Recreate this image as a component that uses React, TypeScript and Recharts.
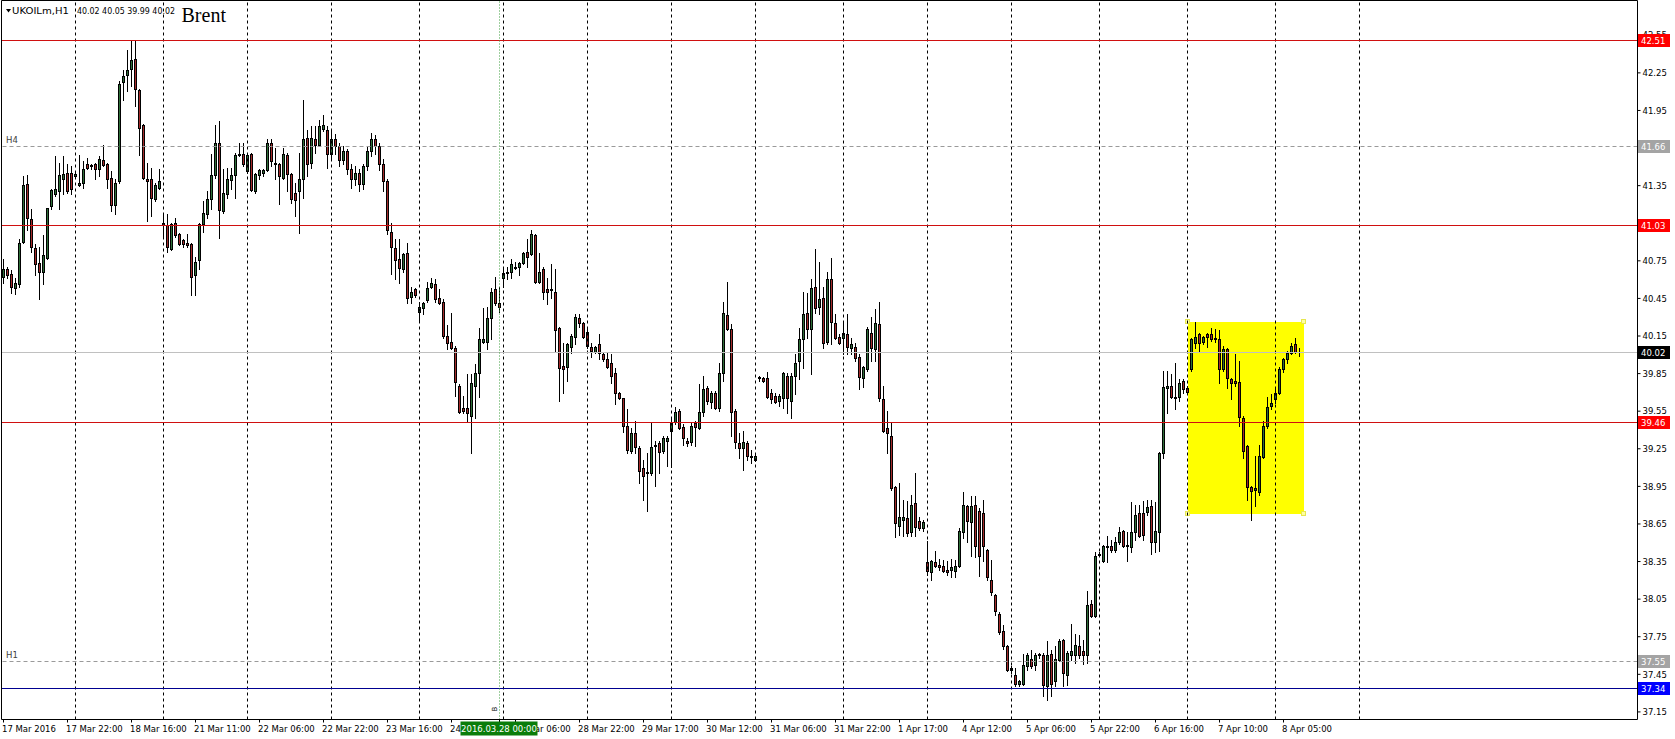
import React from 'react'
import { ComposedChart, Bar, XAxis, YAxis, ReferenceLine, ReferenceArea } from 'recharts'

// UKOILm H1 candles, oldest first
const opens = [
  40.62, 40.68, 40.64, 40.53, 40.56, 40.90, 41.36, 41.08, 40.85, 40.73, 40.66, 40.77, 41.18, 41.28, 41.30, 41.40,
  41.45, 41.45, 41.42, 41.35, 41.37, 41.52, 41.50, 41.52, 41.48, 41.55, 41.52, 41.41, 41.19, 41.38, 42.17, 42.23,
  42.28, 42.36, 42.11, 41.83, 41.40, 41.40, 41.24, 41.33, 41.05, 41.03, 40.84, 41.05, 40.96, 40.91, 40.89, 40.88,
  40.63, 40.75, 41.04, 41.12, 41.24, 41.43, 41.69, 41.14, 41.28, 41.39, 41.43, 41.59, 41.60, 41.46, 41.60, 41.30,
  41.43, 41.45, 41.47, 41.69, 41.52, 41.52, 41.41, 41.59, 41.44, 41.29, 41.30, 41.40, 41.73, 41.53, 41.72, 41.67,
  41.80, 41.79, 41.60, 41.72, 41.66, 41.55, 41.62, 41.48, 41.40, 41.45, 41.36, 41.50, 41.62, 41.72, 41.66, 41.52,
  41.38, 40.98, 40.85, 40.76, 40.68, 40.81, 40.46, 40.52, 40.34, 40.37, 40.43, 40.54, 40.56, 40.45, 40.42, 40.15,
  40.10, 40.05, 39.75, 39.57, 39.57, 39.51, 39.75, 39.85, 40.10, 40.10, 40.29, 40.52, 40.41, 40.61, 40.65, 40.66,
  40.69, 40.70, 40.73, 40.82, 40.80, 40.95, 40.58, 40.68, 40.52, 40.51, 40.50, 40.21, 39.91, 39.90, 40.06, 40.14,
  40.29, 40.25, 40.18, 40.06, 40.02, 40.08, 40.00, 39.96, 39.93, 39.85, 39.69, 39.65, 39.43, 39.23, 39.37, 39.25,
  39.09, 39.05, 39.05, 39.27, 39.29, 39.23, 39.31, 39.39, 39.46, 39.55, 39.42, 39.31, 39.30, 39.45, 39.41, 39.54,
  39.73, 39.62, 39.69, 39.57, 39.85, 40.31, 40.20, 39.55, 39.29, 39.25, 39.29, 39.19, 39.16, 39.81, 39.81, 39.81,
  39.69, 39.67, 39.63, 39.65, 39.83, 39.63, 39.83, 39.95, 40.12, 40.33, 40.20, 40.54, 40.38, 40.45, 40.10, 40.60,
  40.25, 40.14, 40.13, 40.16, 40.05, 40.06, 39.98, 39.81, 39.88, 40.17, 40.04, 40.24, 39.64, 39.41, 39.35, 38.94,
  38.63, 38.68, 38.69, 38.58, 38.81, 38.67, 38.61, 38.34, 38.26, 38.34, 38.32, 38.31, 38.28, 38.28, 38.27, 38.31,
  38.58, 38.79, 38.66, 38.80, 38.75, 38.73, 38.44, 38.20, 38.08, 37.93, 37.79, 37.67, 37.50, 37.44, 37.37, 37.37,
  37.51, 37.57, 37.52, 37.60, 37.60, 37.35, 37.61, 37.39, 37.56, 37.72, 37.44, 37.60, 37.60, 37.67, 37.63, 37.60,
  38.01, 37.91, 38.40, 38.35, 38.46, 38.47, 38.44, 38.50, 38.59, 38.48, 38.46, 38.58, 38.73, 38.73, 38.74, 38.79,
  38.50, 38.58, 39.21, 39.73, 39.75, 39.65, 39.66, 39.79, 39.73, 39.88, 40.09, 40.16, 40.10, 40.16, 40.16, 40.13,
  40.12, 39.88, 40.04, 39.80, 39.79, 39.78, 39.49, 39.27, 38.94, 38.92, 38.90, 39.18, 39.43, 39.59, 39.64, 39.69,
  39.88, 39.96, 40.01, 40.08, 40.02,
]
const highs = [
  40.76, 40.70, 40.67, 40.61, 40.92, 41.42, 41.43, 41.16, 40.88, 40.86, 40.95, 41.17, 41.32, 41.58, 41.53, 41.58,
  41.52, 41.50, 41.45, 41.59, 41.54, 41.57, 41.52, 41.53, 41.58, 41.67, 41.53, 41.46, 41.40, 42.18, 42.27, 42.43,
  42.51, 42.51, 42.12, 41.84, 41.53, 41.49, 41.37, 41.48, 41.12, 41.12, 41.05, 41.09, 40.97, 40.92, 40.96, 40.89,
  40.78, 41.05, 41.22, 41.30, 41.60, 41.83, 41.86, 41.48, 41.49, 41.49, 41.61, 41.69, 41.69, 41.61, 41.61, 41.45,
  41.48, 41.48, 41.72, 41.72, 41.65, 41.53, 41.65, 41.61, 41.45, 41.37, 41.61, 42.03, 41.79, 41.82, 41.82, 41.87,
  41.91, 41.82, 41.78, 41.76, 41.69, 41.66, 41.64, 41.52, 41.50, 41.48, 41.52, 41.66, 41.77, 41.75, 41.69, 41.56,
  41.40, 41.05, 40.92, 40.92, 40.81, 40.89, 40.54, 40.53, 40.42, 40.42, 40.58, 40.61, 40.60, 40.52, 40.44, 40.23,
  40.33, 40.07, 39.76, 39.67, 39.84, 39.84, 39.92, 40.21, 40.37, 40.38, 40.53, 40.62, 40.54, 40.68, 40.70, 40.76,
  40.74, 40.74, 40.82, 40.92, 40.99, 40.96, 40.81, 40.70, 40.61, 40.72, 40.68, 40.22, 40.09, 40.09, 40.16, 40.32,
  40.32, 40.26, 40.22, 40.09, 40.07, 40.16, 40.02, 40.02, 40.00, 39.89, 39.70, 39.65, 39.56, 39.41, 39.47, 39.27,
  39.16, 39.21, 39.46, 39.31, 39.31, 39.35, 39.35, 39.48, 39.58, 39.56, 39.44, 39.33, 39.45, 39.47, 39.76, 39.83,
  39.75, 39.71, 39.71, 39.93, 40.42, 40.58, 40.24, 39.56, 39.37, 39.39, 39.31, 39.24, 39.20, 39.83, 39.82, 39.86,
  39.72, 39.69, 39.68, 39.86, 39.85, 39.85, 40.00, 40.21, 40.50, 40.49, 40.60, 40.84, 40.74, 40.54, 40.66, 40.77,
  40.32, 40.16, 40.25, 40.32, 40.13, 40.09, 40.00, 39.91, 40.22, 40.30, 40.36, 40.42, 39.75, 39.55, 39.46, 38.95,
  38.97, 38.84, 38.83, 38.88, 39.05, 38.70, 38.68, 38.51, 38.36, 38.43, 38.37, 38.36, 38.35, 38.37, 38.36, 38.61,
  38.90, 38.80, 38.87, 38.87, 38.77, 38.84, 38.45, 38.36, 38.09, 37.94, 37.84, 37.68, 37.51, 37.50, 37.40, 37.61,
  37.62, 37.64, 37.62, 37.62, 37.62, 37.71, 37.64, 37.67, 37.73, 37.73, 37.63, 37.85, 37.77, 37.76, 37.72, 38.11,
  38.04, 38.42, 38.42, 38.48, 38.55, 38.52, 38.54, 38.62, 38.60, 38.58, 38.82, 38.80, 38.80, 38.83, 38.84, 38.84,
  38.82, 39.22, 39.87, 39.87, 39.84, 39.93, 39.80, 39.80, 39.75, 40.13, 40.26, 40.17, 40.15, 40.17, 40.21, 40.20,
  40.19, 40.07, 40.05, 39.81, 40.00, 39.95, 39.51, 39.28, 38.95, 39.19, 39.28, 39.47, 39.66, 39.68, 39.72, 39.90,
  39.97, 40.03, 40.09, 40.13, 40.05,
]
const lows = [
  40.57, 40.61, 40.49, 40.48, 40.54, 40.89, 40.99, 40.82, 40.63, 40.44, 40.56, 40.76, 41.16, 41.26, 41.16, 41.28,
  41.29, 41.28, 41.41, 41.34, 41.33, 41.48, 41.48, 41.40, 41.42, 41.50, 41.33, 41.14, 41.12, 41.37, 42.03, 42.10,
  42.14, 41.98, 41.59, 41.40, 41.06, 41.10, 41.22, 41.32, 40.93, 40.82, 40.83, 40.94, 40.87, 40.86, 40.86, 40.47,
  40.47, 40.68, 40.98, 41.09, 41.16, 41.41, 40.93, 41.13, 41.25, 41.32, 41.25, 41.58, 41.50, 41.45, 41.30, 41.29,
  41.40, 41.42, 41.46, 41.50, 41.40, 41.20, 41.40, 41.30, 41.21, 41.10, 40.97, 41.25, 41.42, 41.49, 41.61, 41.66,
  41.78, 41.49, 41.55, 41.60, 41.50, 41.52, 41.44, 41.33, 41.35, 41.30, 41.32, 41.47, 41.58, 41.60, 41.47, 41.30,
  40.96, 40.64, 40.60, 40.57, 40.66, 40.41, 40.41, 40.46, 40.26, 40.32, 40.42, 40.53, 40.42, 40.40, 40.13, 40.04,
  40.04, 39.67, 39.53, 39.53, 39.47, 39.21, 39.49, 39.66, 40.09, 40.04, 40.12, 40.39, 40.34, 40.54, 40.60, 40.61,
  40.68, 40.63, 40.72, 40.70, 40.79, 40.57, 40.57, 40.44, 40.40, 40.45, 40.03, 39.63, 39.69, 39.79, 40.01, 40.08,
  40.22, 40.13, 40.05, 39.98, 40.01, 39.96, 39.95, 39.89, 39.77, 39.60, 39.64, 39.38, 39.21, 39.21, 39.21, 38.97,
  38.84, 38.75, 39.04, 38.95, 39.05, 39.21, 39.11, 39.10, 39.44, 39.40, 39.28, 39.27, 39.28, 39.27, 39.40, 39.51,
  39.60, 39.57, 39.56, 39.55, 39.79, 40.19, 39.35, 39.25, 39.17, 39.08, 39.16, 39.13, 39.15, 39.79, 39.78, 39.65,
  39.61, 39.61, 39.59, 39.57, 39.53, 39.49, 39.68, 39.80, 39.89, 40.13, 39.84, 40.33, 40.32, 40.05, 40.08, 40.08,
  40.12, 40.08, 40.00, 40.00, 40.00, 39.95, 39.72, 39.74, 39.87, 39.95, 39.95, 39.63, 39.38, 39.21, 38.92, 38.54,
  38.56, 38.55, 38.55, 38.55, 38.55, 38.60, 38.59, 38.24, 38.20, 38.30, 38.28, 38.26, 38.24, 38.22, 38.22, 38.30,
  38.53, 38.50, 38.39, 38.38, 38.23, 38.35, 38.20, 38.08, 37.92, 37.77, 37.65, 37.47, 37.46, 37.35, 37.35, 37.36,
  37.48, 37.50, 37.48, 37.58, 37.27, 37.24, 37.27, 37.35, 37.55, 37.35, 37.36, 37.56, 37.54, 37.58, 37.53, 37.54,
  37.90, 37.90, 38.39, 38.34, 38.34, 38.42, 38.42, 38.49, 38.46, 38.35, 38.42, 38.52, 38.54, 38.52, 38.72, 38.41,
  38.42, 38.43, 39.17, 39.53, 39.65, 39.56, 39.63, 39.69, 39.69, 39.87, 40.05, 40.03, 40.08, 40.06, 40.11, 40.10,
  39.77, 39.87, 39.73, 39.64, 39.75, 39.43, 39.17, 38.84, 38.68, 38.79, 38.88, 39.17, 39.41, 39.56, 39.61, 39.68,
  39.86, 39.93, 40.00, 40.01, 39.99,
]
const closes = [
  40.68, 40.63, 40.54, 40.57, 40.89, 41.35, 41.09, 40.86, 40.72, 40.66, 40.79, 41.17, 41.31, 41.32, 41.43, 41.44,
  41.30, 41.32, 41.44, 41.37, 41.48, 41.49, 41.51, 41.48, 41.56, 41.51, 41.40, 41.19, 41.37, 42.16, 42.22, 42.27,
  42.35, 42.12, 41.81, 41.41, 41.38, 41.25, 41.35, 41.38, 41.03, 40.86, 41.04, 40.95, 40.88, 40.88, 40.87, 40.62,
  40.74, 41.04, 41.13, 41.24, 41.43, 41.69, 41.15, 41.29, 41.40, 41.43, 41.59, 41.60, 41.52, 41.59, 41.31, 41.44,
  41.47, 41.47, 41.69, 41.54, 41.53, 41.42, 41.60, 41.44, 41.24, 41.23, 41.40, 41.72, 41.52, 41.73, 41.67, 41.82,
  41.83, 41.60, 41.72, 41.66, 41.55, 41.62, 41.48, 41.40, 41.45, 41.36, 41.50, 41.62, 41.72, 41.66, 41.52, 41.38,
  40.99, 40.86, 40.75, 40.69, 40.80, 40.45, 40.50, 40.47, 40.38, 40.41, 40.53, 40.57, 40.44, 40.41, 40.15, 40.09,
  40.05, 39.78, 39.54, 39.55, 39.53, 39.77, 39.85, 40.12, 40.12, 40.29, 40.50, 40.41, 40.38, 40.65, 40.66, 40.72,
  40.70, 40.73, 40.81, 40.78, 40.96, 40.58, 40.66, 40.50, 40.50, 40.52, 40.19, 39.89, 39.88, 40.08, 40.15, 40.30,
  40.25, 40.14, 40.07, 40.03, 40.06, 40.01, 39.96, 39.90, 39.83, 39.69, 39.65, 39.43, 39.24, 39.37, 39.26, 39.07,
  39.03, 39.06, 39.26, 39.28, 39.22, 39.33, 39.33, 39.46, 39.54, 39.41, 39.33, 39.29, 39.43, 39.42, 39.54, 39.72,
  39.63, 39.69, 39.57, 39.85, 40.33, 40.20, 39.54, 39.30, 39.25, 39.30, 39.19, 39.18, 39.19, 39.82, 39.79, 39.66,
  39.64, 39.62, 39.67, 39.85, 39.65, 39.83, 39.93, 40.12, 40.32, 40.20, 40.53, 40.37, 40.44, 40.09, 40.60, 40.26,
  40.13, 40.09, 40.17, 40.06, 40.08, 39.97, 39.82, 39.90, 40.20, 40.05, 40.25, 39.65, 39.39, 39.37, 38.93, 38.65,
  38.70, 38.70, 38.57, 38.80, 38.62, 38.61, 38.66, 38.27, 38.35, 38.31, 38.30, 38.27, 38.26, 38.30, 38.31, 38.59,
  38.80, 38.67, 38.79, 38.47, 38.39, 38.47, 38.22, 38.10, 37.95, 37.78, 37.67, 37.48, 37.48, 37.37, 37.39, 37.52,
  37.60, 37.51, 37.60, 37.61, 37.36, 37.60, 37.37, 37.57, 37.71, 37.46, 37.62, 37.63, 37.68, 37.60, 37.60, 38.00,
  37.91, 38.39, 38.41, 38.47, 38.47, 38.44, 38.50, 38.58, 38.47, 38.47, 38.58, 38.72, 38.55, 38.56, 38.78, 38.50,
  38.59, 39.21, 39.74, 39.75, 39.66, 39.66, 39.77, 39.72, 39.70, 40.12, 40.14, 40.09, 40.14, 40.14, 40.12, 40.12,
  39.88, 40.04, 39.81, 39.77, 39.77, 39.50, 39.23, 38.94, 38.91, 38.93, 39.19, 39.43, 39.58, 39.61, 39.69, 39.88,
  39.96, 40.01, 40.07, 40.02, 40.02,
]

// bottom axis: a label every 16 bars
const xTickIdx = [0, 16, 32, 48, 64, 80, 96, 112, 128, 144, 160, 176, 192, 208, 224, 240, 256, 272, 288, 304, 320]
const xTickLabels = [
  '17 Mar 2016', '17 Mar 22:00', '18 Mar 16:00', '21 Mar 11:00', '22 Mar 06:00', '22 Mar 22:00', '23 Mar 16:00',
  '24 Mar 08:00', '28 Mar 06:00', '28 Mar 22:00', '29 Mar 17:00', '30 Mar 12:00', '31 Mar 06:00', '31 Mar 22:00',
  '1 Apr 17:00', '4 Apr 12:00', '5 Apr 06:00', '5 Apr 22:00', '6 Apr 16:00', '7 Apr 10:00', '8 Apr 05:00',
]
// first bar of each trading day (period separators)
const daySeparators = [18, 40, 61, 82, 104, 125, 146, 167, 188, 210, 231, 252, 274, 296, 318, 339]
const yTicks = [37.15, 37.45, 37.75, 38.05, 38.35, 38.65, 38.95, 39.25, 39.55, 39.85, 40.15, 40.45, 40.75, 41.05, 41.35, 41.65, 41.95, 42.25, 42.55]

const redLevels = [42.51, 41.03, 39.46]
const pivotLevels = [41.66, 37.55]
const pivotNames = ['H4', 'H1']
const bidPrice = 40.02
const lowLevel = 37.34
const vlineBar = 124
const vlineText = '2016.03.28 00:00'
const boxBars = [296, 325]
const boxPrices = [38.73, 40.26]

const SLOTS = 409 // bars incl. the empty chart shift on the right
const data = Array.from({ length: SLOTS }, (_, i) =>
  i < opens.length
    ? { i, open: opens[i], high: highs[i], low: lows[i], close: closes[i], range: [lows[i], highs[i]] }
    : { i }
)

const FONT = '"DejaVu Sans", Tahoma, sans-serif'
const BULL = '#2e6e38'
const BEAR = '#a32a2a'

const tagColor = (v: number) => {
  if (redLevels.includes(v)) return '#ff0000'
  if (pivotLevels.includes(v)) return '#a4a4a4'
  if (v === bidPrice) return '#000'
  if (v === lowLevel) return '#0000ff'
  return null
}

function Candle(props: any) {
  const { x, y, width, height, payload } = props
  if (!payload || payload.open == null || !isFinite(y)) return <g />
  const { open, close, high, low } = payload
  const ppu = height / (high - low)
  const py = (p: number) => Math.floor(y + (high - p) * ppu)
  const cx = Math.floor(x + width / 2) + 0.5
  const top = py(Math.max(open, close))
  const bot = py(Math.min(open, close))
  return (
    <g>
      <line x1={cx} x2={cx} y1={py(high)} y2={py(low) + 1} stroke="#000" />
      {bot - top < 1 ? (
        <line x1={cx - 1.5} x2={cx + 1.5} y1={top + 0.5} y2={top + 0.5} stroke="#000" />
      ) : (
        <rect x={cx - 1} y={top + 0.5} width={2} height={bot - top} fill={close >= open ? BULL : BEAR} stroke="#000" />
      )}
    </g>
  )
}

const hLine = (color: string, dash?: string) => (p: any) => {
  const y = Math.floor(p.y1) + 0.5
  return <line x1={p.x1} x2={p.x2} y1={y} y2={y} stroke={color} strokeDasharray={dash} />
}

const levelName = (name: string) => (p: any) => {
  const vb = p.viewBox
  if (!vb) return null
  const y = Math.floor(vb.y) + 0.5
  return (
    <text x={vb.x + 4.5} y={y - 3.5} fontSize={8.5} fontFamily={FONT} fill="#404040">{name}</text>
  )
}

const vlineMark = (p: any) => {
  const vb = p.viewBox
  if (!vb) return null
  const bottom = vb.y + vb.height
  return (
    <text transform={`translate(${vb.x - 3},${bottom - 8}) rotate(-90)`} fontSize={7} fontFamily={FONT} fill="#000">B</text>
  )
}

const boxShape = (p: any) => {
  const half = p.width / (2 * (boxBars[1] - boxBars[0] + 1))
  const x0 = Math.round(p.x + half)
  const x1 = Math.round(p.x + p.width - half)
  const y0 = Math.round(p.y)
  const y1 = Math.round(p.y + p.height)
  const corners = [[x0, y0], [x1, y0], [x0, y1], [x1, y1]]
  return (
    <g>
      <rect x={x0} y={y0} width={x1 - x0} height={y1 - y0} fill="#ffff00" />
      {corners.map(([cx, cy], k) => (
        <rect key={k} x={cx - 2.5} y={cy - 2.5} width={4} height={4} fill="#ffffa0" stroke="#e6e650" />
      ))}
    </g>
  )
}

// the vline's time tag is drawn as the last tick so it covers the labels beneath it
const XTick = (p: any) => {
  const v = p.payload.value
  if (v === vlineBar) {
    return (
      <g>
        <rect x={p.x - 39} y={p.y - 3} width={77} height={14} fill="#0a7d0a" />
        <text x={p.x - 0.5} y={p.y + 4} dy={3.2} textAnchor="middle" fontSize={8.5} fontFamily={FONT} fill="#fff">{vlineText}</text>
      </g>
    )
  }
  const k = xTickIdx.indexOf(v)
  return (
    <text x={p.x - 1.5} y={p.y} dy={7} fontSize={8.5} fontFamily={FONT} fill="#000" textAnchor="start">
      {xTickLabels[k]}
    </text>
  )
}

// price tags of the levels are drawn as the last ticks so they cover the plain labels
const YTick = (p: any) => {
  const v = Number(p.payload.value)
  const bg = tagColor(v)
  if (bg) {
    const y = Math.floor(p.y) + 0.5
    return (
      <g>
        <rect x={p.x - 4.5} y={y - 6.5} width={32} height={13} fill={bg} />
        <text x={p.x - 1.5} y={y} dy={3.2} fontSize={8.5} fontFamily={FONT} fill="#fff">{v.toFixed(2)}</text>
      </g>
    )
  }
  return (
    <text x={p.x} y={p.y} dy={3.2} fontSize={8.5} fontFamily={FONT} fill="#000" textAnchor="start">
      {v.toFixed(2)}
    </text>
  )
}

export default function App() {
  const yAll = [...yTicks, ...pivotLevels, bidPrice, ...redLevels, lowLevel]
  return (
    <div style={{ position: 'absolute', left: 0, top: 0, width: 1675, height: 739, background: '#fff', overflow: 'hidden' }}>
      <ComposedChart width={1675} height={739} data={data} margin={{ top: 0, right: 0, bottom: 0, left: 0 }}>
        <XAxis xAxisId="t" orientation="top" dataKey="i" height={0.5} tick={false} tickLine={false} axisLine={{ stroke: '#000' }} />
        <YAxis yAxisId="l" orientation="left" width={1.5} tick={false} tickLine={false} axisLine={{ stroke: '#000' }} />
        <XAxis
          xAxisId="b"
          dataKey="i"
          type="category"
          height={19.5}
          ticks={[...xTickIdx, vlineBar]}
          interval={0}
          tick={XTick}
          tickSize={3}
          tickMargin={2}
          tickLine={{ stroke: '#000' }}
          axisLine={{ stroke: '#000' }}
        />
        <YAxis
          yAxisId="r"
          orientation="right"
          type="number"
          width={37.5}
          domain={[37.0894, 42.8276]}
          allowDataOverflow
          ticks={yAll}
          interval={0}
          tick={YTick}
          tickSize={3}
          tickMargin={2}
          tickLine={{ stroke: '#000' }}
          axisLine={{ stroke: '#000' }}
        />
        <ReferenceArea
          xAxisId="b"
          yAxisId="r"
          x1={boxBars[0]}
          x2={boxBars[1]}
          y1={boxPrices[0]}
          y2={boxPrices[1]}
          shape={boxShape}
        />
        {daySeparators.map((s) => (
          <ReferenceLine key={'d' + s} xAxisId="b" yAxisId="r" x={s} stroke="#000" strokeDasharray="3 3" />
        ))}
        {pivotLevels.map((v, k) => (
          <ReferenceLine key={'p' + v} xAxisId="b" yAxisId="r" y={v} shape={hLine('#9a9a9a', '4 3')} label={levelName(pivotNames[k])} />
        ))}
        <ReferenceLine xAxisId="b" yAxisId="r" y={bidPrice} shape={hLine('#c0c0c0')} />
        {redLevels.map((v) => (
          <ReferenceLine key={'r' + v} xAxisId="b" yAxisId="r" y={v} shape={hLine('#d01010')} />
        ))}
        <ReferenceLine xAxisId="b" yAxisId="r" y={lowLevel} shape={hLine('#000090')} />
        <Bar xAxisId="b" yAxisId="r" dataKey="range" shape={Candle} isAnimationActive={false} />
        <ReferenceLine xAxisId="b" yAxisId="r" x={vlineBar} stroke="#3f9f3f" strokeDasharray="1 2" label={vlineMark} />
      </ComposedChart>
      <svg width={300} height={30} style={{ position: 'absolute', left: 0, top: 0, pointerEvents: 'none' }}>
        <polygon points="6,9 11,9 8.5,12.5" fill="#000" />
        <text x={12} y={14} fontSize={9} fontFamily={FONT} textLength={57} lengthAdjust="spacingAndGlyphs" fill="#000">UKOILm,H1</text>
        <text x={77} y={14} fontSize={9} fontFamily={FONT} textLength={98} lengthAdjust="spacingAndGlyphs" fill="#000">
          {`${opens[opens.length - 1].toFixed(2)} ${highs[highs.length - 1].toFixed(2)} ${lows[lows.length - 1].toFixed(2)} ${closes[closes.length - 1].toFixed(2)}`}
        </text>
        <text x={181.5} y={21.5} fontSize={20} fontFamily='"Liberation Serif", "Times New Roman", serif' fill="#000">Brent</text>
      </svg>
    </div>
  )
}
